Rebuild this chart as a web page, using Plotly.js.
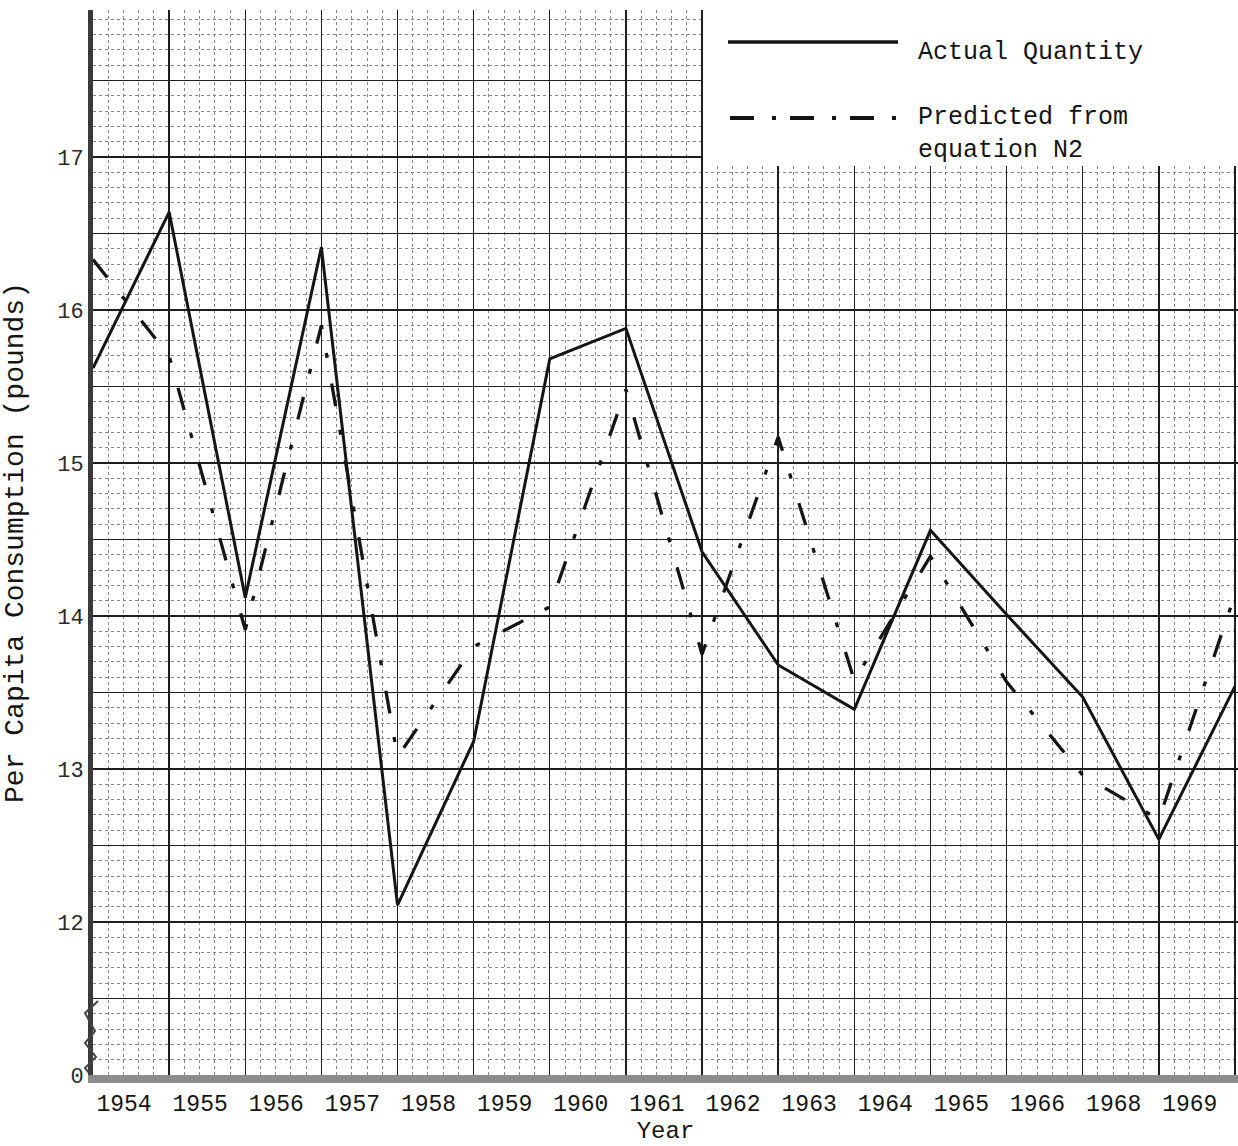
<!DOCTYPE html>
<html><head><meta charset="utf-8">
<script src="https://cdn.plot.ly/plotly-3.0.1.min.js"></script>
<style>html,body{margin:0;padding:0;background:#fff}#chart{width:1238px;height:1146px}</style>
</head><body><div id="chart"></div>
<script>
// Year labels (drawn between successive plotted points, as on the original sheet)
const yearLabels = ['1954','1955','1956','1957','1958','1959','1960','1961','1962','1963','1964','1965','1966','1968','1969'];
// Plot positions of the points along the year axis
const periods = [0,1,2,3,4,5,6,7,8,9,10,11,12,13,14,15];
// Actual per capita consumption (pounds)
const actualQuantity = [15.62,16.64,14.12,16.41,12.11,13.18,15.68,15.88,14.42,13.68,13.39,14.56,14.01,13.47,12.54,13.54];
// Predicted from equation N2 (pounds)
const predictedN2 = [16.33,15.70,13.91,15.90,13.08,13.80,14.06,15.48,13.75,15.17,13.58,14.39,13.57,12.96,12.67,14.14];
// Y axis ticks (bottom of the broken axis is labelled 0)
const yTickVals = [11,11.5,12,12.5,13,13.5,14,14.5,15,15.5,16,16.5,17,17.5];
const yTickText = ['0','','12','','13','','14','','15','','16','','17',''];

const W = 1238, H = 1146;
const M = {l:93, r:0, t:10, b:71};
const PW = W - M.l - M.r, PH = H - M.t - M.b;
const px = (x) => (x - M.l) / PW;
const py = (y) => (H - M.b - y) / PH;

const FONT = '"Courier New", "Liberation Mono", monospace';
const INK = '#151515';

const xTickText = yearLabels.concat(['']);

const traces = [
  {x: periods, y: actualQuantity, type:'scatter', mode:'lines', name:'Actual Quantity',
   line:{color:INK, width:3}, hoverinfo:'x+y'},
  {x: periods, y: predictedN2, type:'scatter', mode:'lines', name:'Predicted from equation N2',
   line:{color:INK, width:3.3, dash:'23px,24px,5px,26px'}, hoverinfo:'x+y'}
];

const zig = [[98,1001],[85,1013],[95,1031],[85,1043],[96,1057],[85,1068],[90,1074]];
const zigPath = 'M ' + zig.map(p => px(p[0]).toFixed(4) + ',' + py(p[1]).toFixed(4)).join(' L ');

const layout = {
  width: W, height: H,
  margin: {l:M.l, r:M.r, t:M.t, b:M.b, pad:0},
  paper_bgcolor:'#fff', plot_bgcolor:'#fff',
  showlegend:false,
  font:{family:FONT, color:INK},
  xaxis:{
    range:[0, 15.04], tickmode:'array', tickvals: periods, ticktext: xTickText,
    ticklabelshift: 31, ticks:'', tickfont:{size:23, family:FONT, color:INK},
    showgrid:true, gridcolor:'#1e1e1e', gridwidth:1.4,
    minor:{dtick:0.2, tick0:0, showgrid:true, gridcolor:'#858585', griddash:'dot', gridwidth:1},
    showline:true, linecolor:'#8c8c8c', linewidth:8, zeroline:false,
    title:{text:'Year', font:{size:24, family:FONT, color:INK}, standoff:8},
    automargin:false, fixedrange:true
  },
  yaxis:{
    range:[11, 11 + PH/153], tickmode:'array', tickvals:yTickVals, ticktext:yTickText,
    ticks:'', tickfont:{size:22, family:FONT, color:'#2a2a2a'}, ticklabelstandoff:0,
    showgrid:true, gridcolor:'#1e1e1e', gridwidth:1.4,
    minor:{dtick:0.1, tick0:11, showgrid:true, gridcolor:'#858585', griddash:'dot', gridwidth:1},
    showline:true, linecolor:'#3a3a3a', linewidth:5, zeroline:false,
    title:{text:'Per Capita Consumption (pounds)', font:{size:28, family:FONT, color:INK}},
    automargin:false, fixedrange:true
  },
  shapes:[
    // white legend panel (grid paper left blank there)
    {type:'rect', xref:'paper', yref:'paper', x0:px(703), x1:px(1240), y0:py(166), y1:py(0),
     fillcolor:'#fff', line:{width:0}, layer:'above'},
    {type:'line', xref:'paper', yref:'paper', x0:px(728), x1:px(898), y0:py(42), y1:py(42),
     line:{color:INK, width:3.5}, layer:'above'},
    {type:'line', xref:'paper', yref:'paper', x0:px(730), x1:px(898), y0:py(118), y1:py(118),
     line:{color:INK, width:4, dash:'24px,18px,4px,14px'}, layer:'above'},
    // axis break mark
    {type:'path', xref:'paper', yref:'paper', path: zigPath, line:{color:'#444', width:2}, layer:'above'}
  ],
  annotations:[
    {xref:'paper', yref:'paper', x:px(916), y:py(53), xanchor:'left', yanchor:'middle', showarrow:false,
     text:'Actual Quantity', font:{size:25, family:FONT, color:INK}},
    {xref:'paper', yref:'paper', x:px(916), y:py(117), xanchor:'left', yanchor:'middle', showarrow:false,
     text:'Predicted from', font:{size:25, family:FONT, color:INK}},
    {xref:'paper', yref:'paper', x:px(916), y:py(150), xanchor:'left', yanchor:'middle', showarrow:false,
     text:'equation N2', font:{size:25, family:FONT, color:INK}}
  ]
};

Plotly.newPlot('chart', traces, layout, {staticPlot:true, displayModeBar:false});
</script></body></html>
